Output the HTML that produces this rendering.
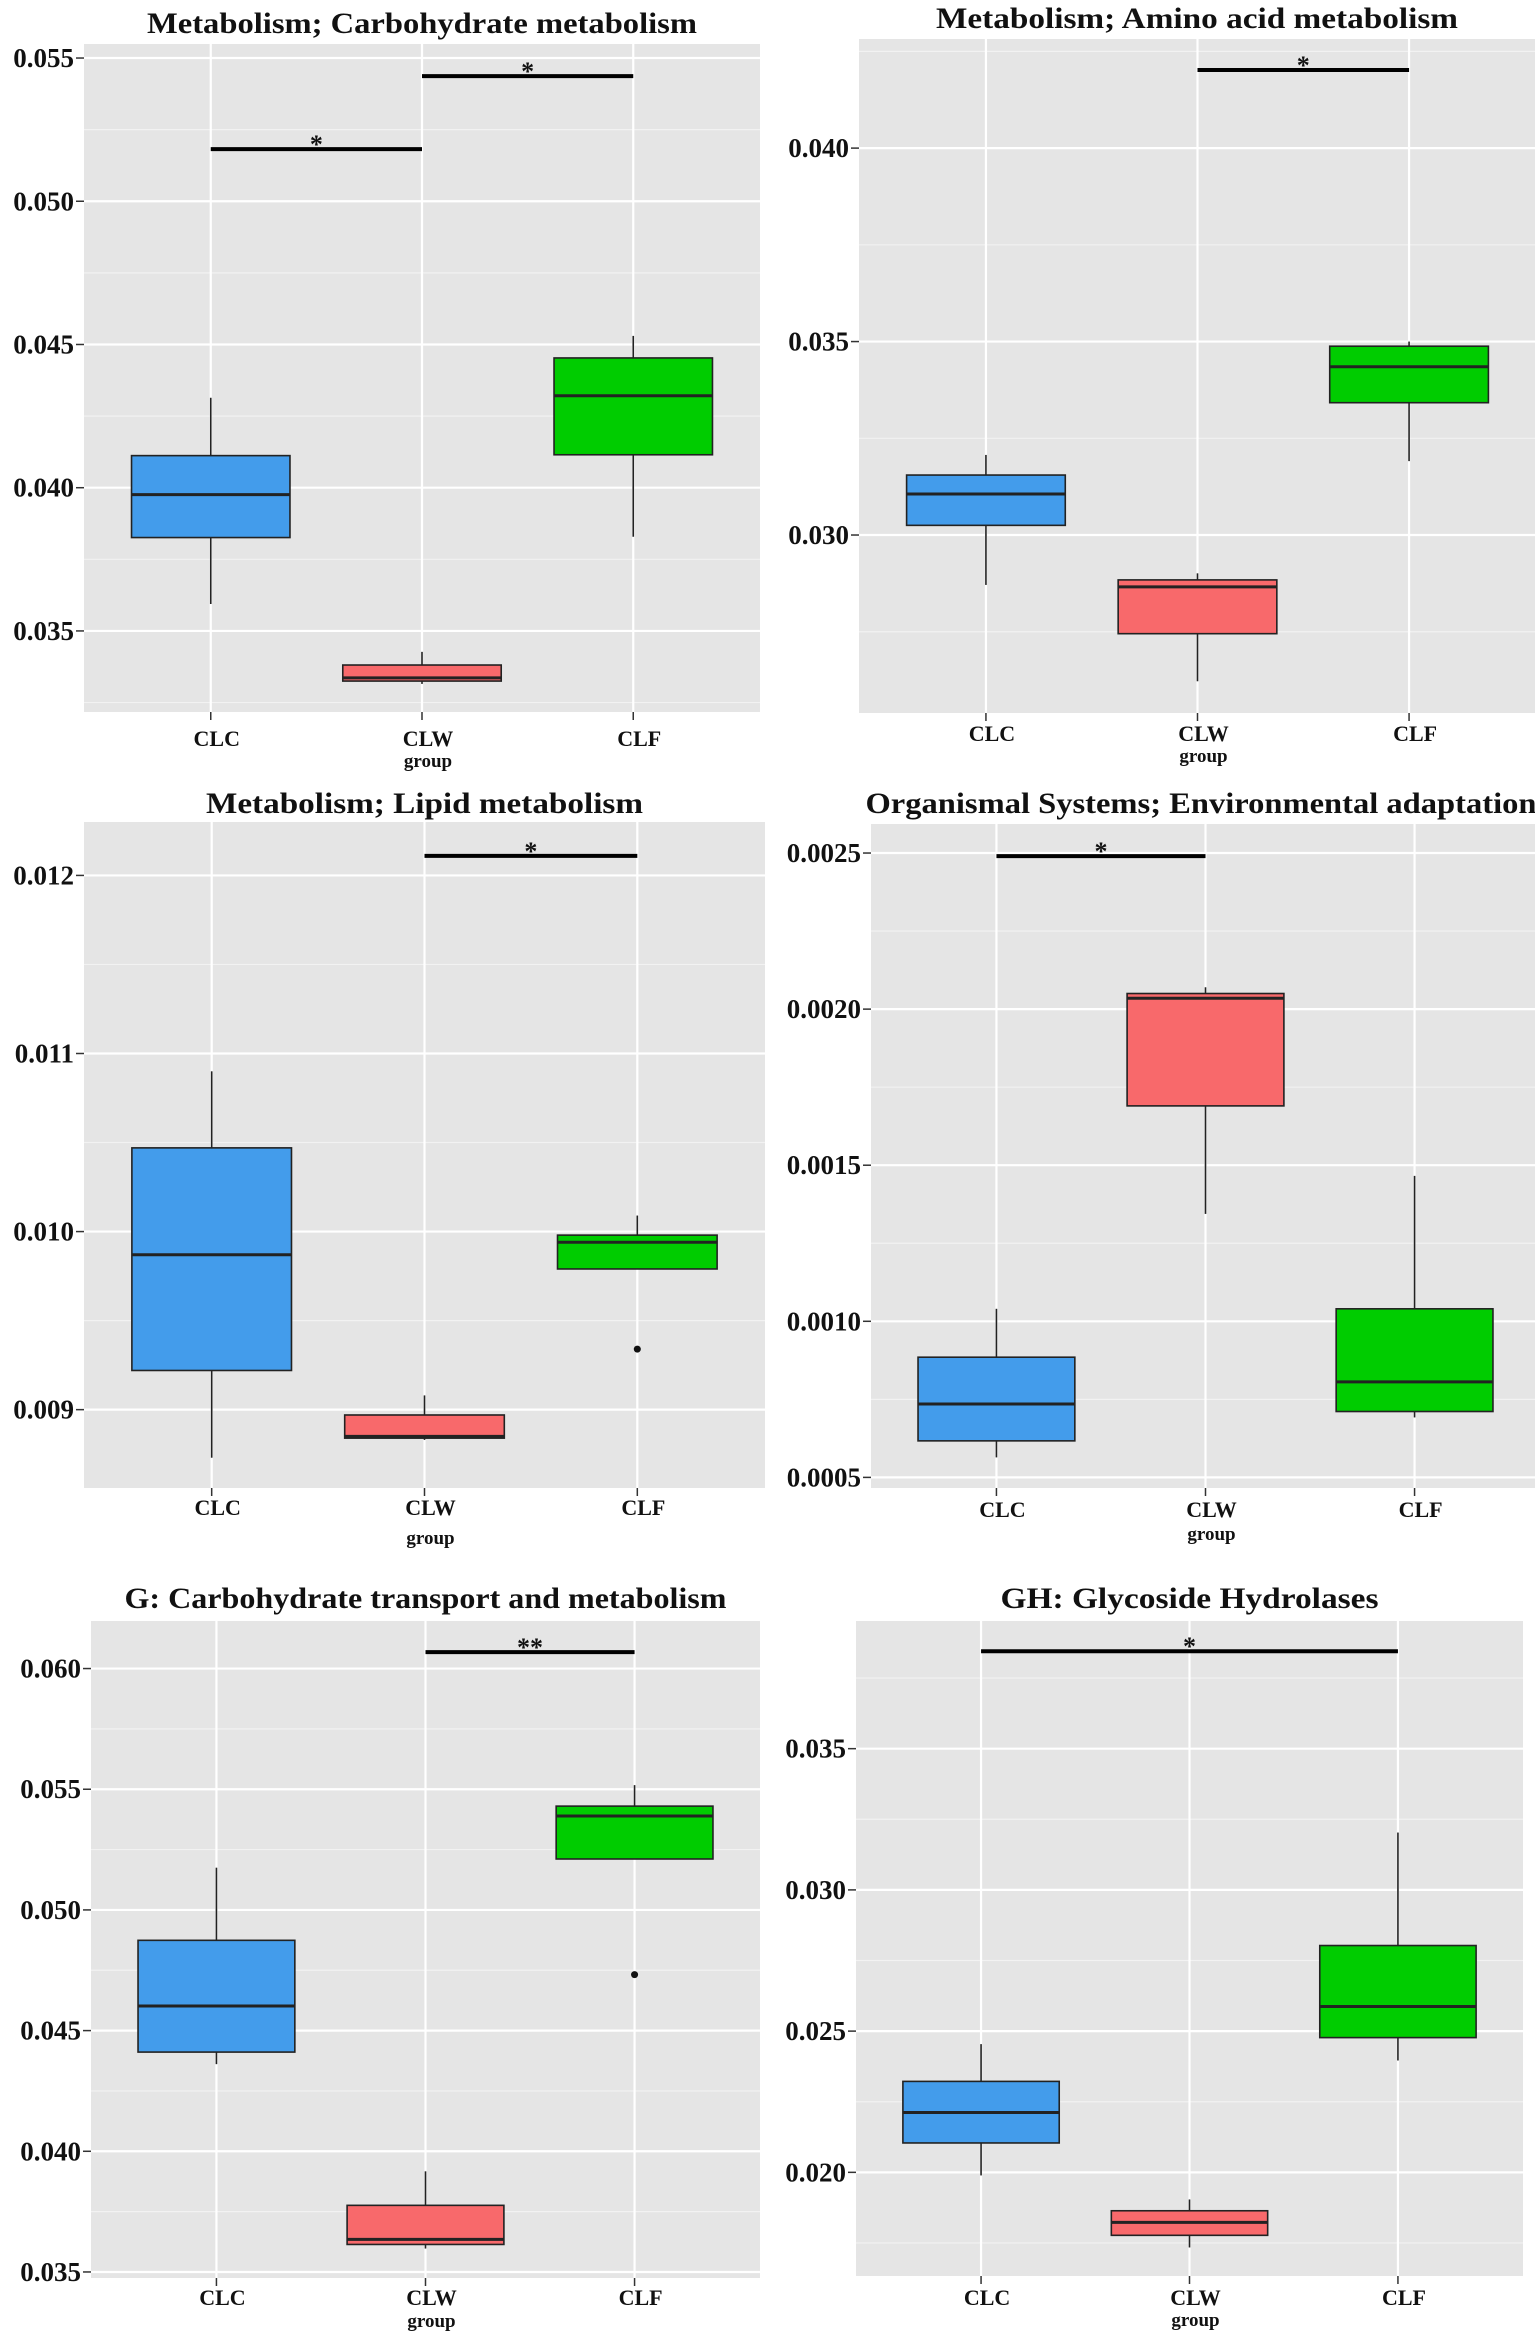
<!DOCTYPE html>
<html><head><meta charset="utf-8"><title>Boxplots</title>
<style>
html,body{margin:0;padding:0;background:#fff;}
svg{display:block;}
text{font-family:"Liberation Serif",serif;font-weight:bold;fill:#111;}
</style></head>
<body>
<svg id="fig" width="1535" height="2339" viewBox="0 0 1535 2339" xmlns="http://www.w3.org/2000/svg"></svg>
<script>
const categories = ['CLC','CLW','CLF'];
const colors = ['#439CEB','#F8696B','#00CC00'];

const titles = ['Metabolism; Carbohydrate metabolism','Metabolism; Amino acid metabolism','Metabolism; Lipid metabolism','Organismal Systems; Environmental adaptation','G: Carbohydrate transport and metabolism','GH: Glycoside Hydrolases'];

// Panel 1
const p1Low  = [0.03594, 0.03315, 0.03829];
const p1Q1   = [0.03826, 0.03325, 0.04115];
const p1Med  = [0.03976, 0.03336, 0.04321];
const p1Q3   = [0.04112, 0.03381, 0.04453];
const p1High = [0.04314, 0.03427, 0.04530];
const p1Out  = [];
const p1Sig  = [[0,1,0.05182,'*'],[1,2,0.05437,'*']];
const p1Ticks = ['0.035','0.040','0.045','0.050','0.055'];
// Panel 2
const p2Low  = [0.02871, 0.02622, 0.03191];
const p2Q1   = [0.03025, 0.02745, 0.03342];
const p2Med  = [0.03106, 0.02866, 0.03435];
const p2Q3   = [0.03155, 0.02884, 0.03488];
const p2High = [0.03207, 0.02901, 0.03500];
const p2Out  = [];
const p2Sig  = [[1,2,0.04202,'*']];
const p2Ticks = ['0.030','0.035','0.040'];
// Panel 3
const p3Low  = [0.00873, 0.00883, 0.00979];
const p3Q1   = [0.00922, 0.00884, 0.00979];
const p3Med  = [0.00987, 0.00885, 0.00994];
const p3Q3   = [0.01047, 0.00897, 0.00998];
const p3High = [0.01090, 0.00908, 0.01009];
const p3Out  = [[2,0.00934]];
const p3Sig  = [[1,2,0.01211,'*']];
const p3Ticks = ['0.009','0.010','0.011','0.012'];
// Panel 4
const p4Low  = [0.000564, 0.001344, 0.000692];
const p4Q1   = [0.000617, 0.00169, 0.000711];
const p4Med  = [0.000735, 0.002035, 0.000806];
const p4Q3   = [0.000885, 0.00205, 0.00104];
const p4High = [0.00104, 0.00207, 0.001466];
const p4Out  = [];
const p4Sig  = [[0,1,0.00249,'*']];
const p4Ticks = ['0.0005','0.0010','0.0015','0.0020','0.0025'];
// Panel 5
const p5Low  = [0.04361, 0.03597, 0.05211];
const p5Q1   = [0.04411, 0.03614, 0.05211];
const p5Med  = [0.04602, 0.03635, 0.05389];
const p5Q3   = [0.04874, 0.03776, 0.05430];
const p5High = [0.05175, 0.03917, 0.05517];
const p5Out  = [[2,0.04732]];
const p5Sig  = [[1,2,0.06068,'**']];
const p5Ticks = ['0.035','0.040','0.045','0.050','0.055','0.060'];
// Panel 6
const p6Low  = [0.01989, 0.01734, 0.02396];
const p6Q1   = [0.02104, 0.01777, 0.02477];
const p6Med  = [0.02212, 0.01823, 0.02587];
const p6Q3   = [0.02322, 0.01864, 0.02803];
const p6High = [0.02454, 0.01904, 0.03203];
const p6Out  = [];
const p6Sig  = [[0,2,0.03845,'*']];
const p6Ticks = ['0.020','0.025','0.030','0.035'];

const data = [
 [p1Low,p1Q1,p1Med,p1Q3,p1High,p1Out,p1Sig,p1Ticks],
 [p2Low,p2Q1,p2Med,p2Q3,p2High,p2Out,p2Sig,p2Ticks],
 [p3Low,p3Q1,p3Med,p3Q3,p3High,p3Out,p3Sig,p3Ticks],
 [p4Low,p4Q1,p4Med,p4Q3,p4High,p4Out,p4Sig,p4Ticks],
 [p5Low,p5Q1,p5Med,p5Q3,p5High,p5Out,p5Sig,p5Ticks],
 [p6Low,p6Q1,p6Med,p6Q3,p6High,p6Out,p6Sig,p6Ticks]
];

// layout (pixels + axis domains)
const layout = [
 {x0:84,  x1:760,  y0:44,   y1:712,   dmax:0.05549, dmin:0.03217, tY:33,   tW:550, lY:746,  gY:767},
 {x0:859, x1:1536, y0:39,   y1:713,   dmax:0.04282, dmin:0.02540, tY:28,   tW:522, lY:741,  gY:762},
 {x0:84,  x1:765,  y0:822,  y1:1488,  dmax:0.01230, dmin:0.00856, tY:813,  tW:437, lY:1515, gY:1544},
 {x0:871, x1:1540, y0:824,  y1:1488,  dmax:0.002593,dmin:0.000466,tY:813, tW:671, lY:1517, gY:1540},
 {x0:91,  x1:760,  y0:1621, y1:2278,  dmax:0.06197, dmin:0.03475, tY:1608, tW:602, lY:2305, gY:2327},
 {x0:856, x1:1523, y0:1621, y1:2276,  dmax:0.03952, dmin:0.01633, tY:1608, tW:378, lY:2305, gY:2326}
];

const NS='http://www.w3.org/2000/svg';
const svg=document.getElementById('fig');
function mk(tag,attrs,parent){const e=document.createElementNS(NS,tag);for(const k in attrs)e.setAttribute(k,attrs[k]);(parent||svg).appendChild(e);return e;}

data.forEach((d,pi)=>{
  const L=layout[pi];
  const [low,q1,med,q3,high,outs,sigs,ticks]=d;
  const g=mk('g',{});
  
  
  const y=v=>L.y0+(L.dmax-v)/(L.dmax-L.dmin)*(L.y1-L.y0);
  const unit=(L.x1-L.x0)/3.2;
  const x=i=>L.x0+(0.6+i)*unit;
  const bw=unit*0.75;
  const clip='clip'+pi;
  const cp=mk('clipPath',{id:clip},g);
  mk('rect',{x:L.x0,y:L.y0,width:Math.min(L.x1,1535)-L.x0,height:L.y1-L.y0},cp);
  const bg=mk('rect',{x:L.x0,y:L.y0,width:L.x1-L.x0,height:L.y1-L.y0,fill:'#E5E5E5'},g);
  
  
  const pg=mk('g',{'clip-path':'url(#'+clip+')'},g);
  const tv=ticks.map(Number);
  const step=tv[1]-tv[0];
  // minor grid
  for(let k=-1;k<tv.length;k++){
    const v=tv[0]+(k+0.5)*step;
    if(v>L.dmin&&v<L.dmax){const m=mk('line',{x1:L.x0,x2:L.x1,y1:y(v),y2:y(v),stroke:'#F2F2F2','stroke-width':1.2},pg);
      
      }
  }
  tv.forEach((v,k)=>{
    const gl=mk('line',{x1:L.x0,x2:L.x1,y1:y(v),y2:y(v),stroke:'#fff','stroke-width':2.2},pg);
    
    
    mk('line',{x1:L.x0-8,x2:L.x0,y1:y(v),y2:y(v),stroke:'#333','stroke-width':1.5},g);
    const t=mk('text',{x:L.x0-10,y:y(v)+9,'text-anchor':'end','font-size':27},g);
    t.textContent=ticks[k];
    
    
  });
  categories.forEach((c,i)=>{
    const vl=mk('line',{x1:x(i),x2:x(i),y1:L.y0,y2:L.y1,stroke:'#fff','stroke-width':2.2},pg);
    
    
    mk('line',{x1:x(i),x2:x(i),y1:L.y1,y2:L.y1+8,stroke:'#333','stroke-width':1.5},g);
    const t=mk('text',{x:x(i)+6,y:L.lY,'text-anchor':'middle','font-size':22},g);
    t.textContent=c;
    
    
  });
  // boxes
  categories.forEach((c,i)=>{
    const bg2=mk('g',{},pg);
    
    
    mk('line',{x1:x(i),x2:x(i),y1:y(high[i]),y2:y(q3[i]),stroke:'#222','stroke-width':1.6},bg2);
    mk('line',{x1:x(i),x2:x(i),y1:y(q1[i]),y2:y(low[i]),stroke:'#222','stroke-width':1.6},bg2);
    mk('rect',{x:x(i)-bw/2,y:y(q3[i]),width:bw,height:Math.max(1,y(q1[i])-y(q3[i])),fill:colors[i],stroke:'#222','stroke-width':1.6},bg2);
    mk('line',{x1:x(i)-bw/2,x2:x(i)+bw/2,y1:y(med[i]),y2:y(med[i]),stroke:'#222','stroke-width':3},bg2);
  });
  outs.forEach(o=>{
    const c=mk('circle',{cx:x(o[0]),cy:y(o[1]),r:3.5,fill:'#111'},pg);
    
    
  });
  sigs.forEach(s=>{
    const sl=mk('line',{x1:x(s[0]),x2:x(s[1]),y1:y(s[2]),y2:y(s[2]),stroke:'#000','stroke-width':4},g);
    
    
    const st=mk('text',{x:(x(s[0])+x(s[1]))/2,y:y(s[2])+4,'text-anchor':'middle','font-size':26},g);
    st.textContent=s[3];
    
    
  });
  const tt=mk('text',{x:(L.x0+Math.min(L.x1,1535))/2+ (pi===3?-2:0),y:L.tY,'text-anchor':'middle','font-size':30,textLength:L.tW,lengthAdjust:'spacingAndGlyphs'},g);
  tt.textContent=titles[pi];
  
  
  const gt=mk('text',{x:x(1)+6,y:L.gY,'text-anchor':'middle','font-size':19},g);
  gt.textContent='group';
  
  
});
</script>
</body></html>
